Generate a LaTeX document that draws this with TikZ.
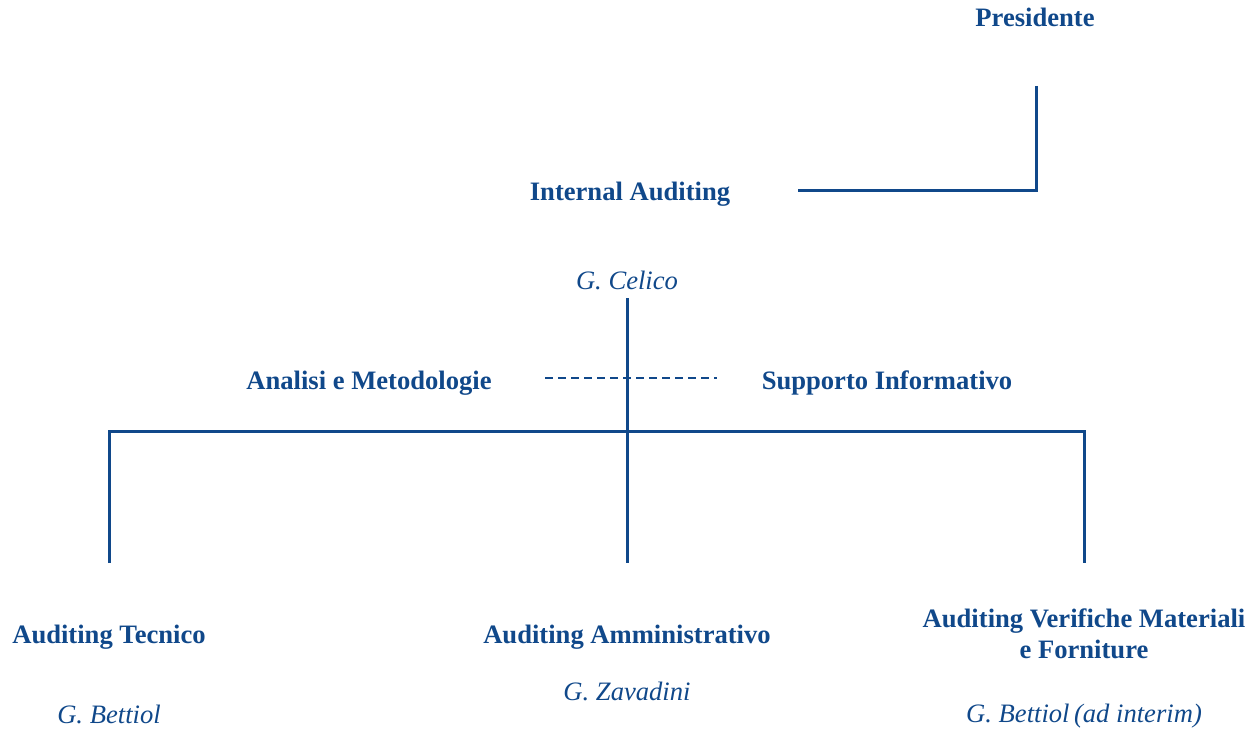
\documentclass[tikz,border=0pt]{standalone}
\usepackage{fontspec}
\setmainfont{Liberation Serif}
\definecolor{orgblue}{RGB}{16,72,138}
\tikzset{
  lbl/.style={text=orgblue, font=\fontsize{26.6}{31}\selectfont\bfseries, anchor=base, inner sep=0pt},
  who/.style={text=orgblue, font=\fontsize{26.6}{31}\selectfont\itshape, anchor=base, inner sep=0pt},
  link/.style={draw=orgblue, line width=3pt},
  dlink/.style={draw=orgblue, line width=1.5pt, dash pattern=on 8pt off 5pt}
}
\begin{document}
\begin{tikzpicture}[x=1pt,y=-1pt]
\useasboundingbox (0,0) rectangle (1249,735);
% texts
\node[lbl] (pres) at (1035,27) {Presidente};
\node[lbl] (ia) at (630,201) {Internal Auditing};
\node[who] (celico) at (627,289) {G. Celico};
\node[lbl] (am) at (369,389) {Analisi e Metodologie};
\node[lbl] (si) at (887,389) {Supporto Informativo};
\node[lbl] (at) at (109,643) {Auditing Tecnico};
\node[lbl] (aa) at (627,643) {Auditing Amministrativo};
\node[lbl, align=center] (av) at (1084,658) {Auditing Verifiche Materiali\\e Forniture};
\node[who] (bettiol) at (109,723) {G. Bettiol};
\node[who] (zavadini) at (627,700) {G. Zavadini};
\node[who] (bettiol2) at (1084,722) {G. Bettiol\,(ad interim)};
% connector points
\coordinate (p1) at (1036,86);
\coordinate (p2) at (1036,191);
\coordinate (p3) at (798,191);
\coordinate (c1) at (627,298);
\coordinate (bar) at (627,431);
\coordinate (c2) at (627,563);
\coordinate (l1) at (109,431);
\coordinate (l2) at (109,563);
\coordinate (r1) at (1084,431);
\coordinate (r2) at (1084,563);
\coordinate (d1) at (545,378);
\coordinate (d2) at (717,378);
% connectors
\draw[link, line join=miter] (p1) -- (p2) -- (p3);
\draw[link] (c1) -- (c2);
\draw[link, line join=miter] (l2) -- (l1) -- (r1) -- (r2);
\draw[dlink] (d1) -- (d2);
\end{tikzpicture}
\end{document}
